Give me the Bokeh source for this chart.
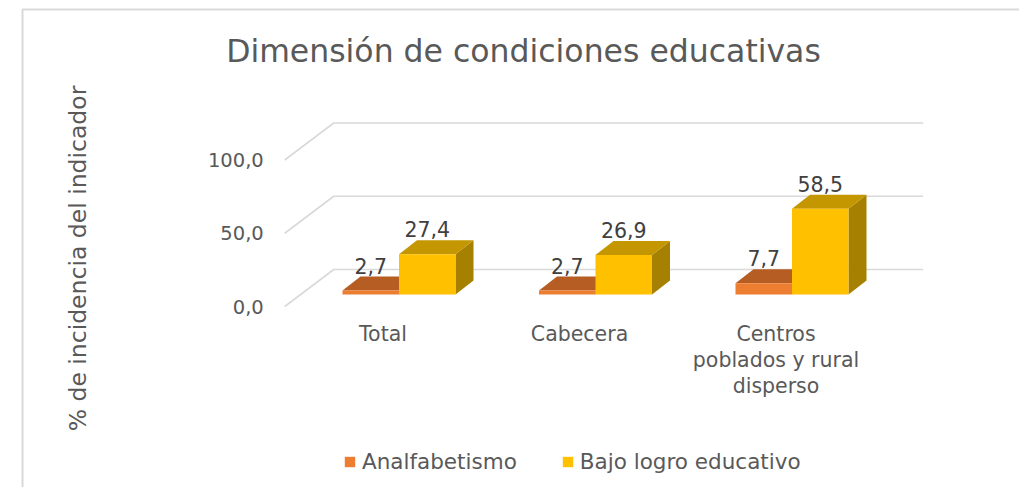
import math
from bokeh.plotting import figure
from bokeh.models import Range1d, ColumnDataSource, Label, Legend, LegendItem
from bokeh.embed import file_html
from bokeh.resources import INLINE
from bokeh.core.properties import value

# ---------------- data ----------------
title_text = "Dimensión de condiciones educativas"
categories = ["Total", "Cabecera", "Centros poblados y rural disperso"]
category_lines = [["Total"], ["Cabecera"], ["Centros", "poblados y rural", "disperso"]]
series_names = ["Analfabetismo", "Bajo logro educativo"]
analfabetismo = [2.7, 2.7, 7.7]
bajo_logro = [27.4, 26.9, 58.5]
y_ticks = [0, 50, 100]
y_tick_labels = ["0,0", "50,0", "100,0"]
y_axis_title = "% de incidencia del indicador"

# ---------------- geometry / style ----------------
W, H = 1019, 487
CAT_PX = 196.5      # pixels per category
VAL_PX = 1.465      # pixels per value unit
GROUP0_PX = 398.5   # canvas x of first group centre
BASE_PX = 294       # canvas y of the zero line in the bar plane

x0 = -GROUP0_PX / CAT_PX
x1 = x0 + W / CAT_PX
y1 = BASE_PX / VAL_PX
y0 = y1 - H / VAL_PX


def px_x(n):
    return n / CAT_PX


def px_y(n):
    return n / VAL_PX


def data_x(cx):
    return x0 + cx / CAT_PX


def data_y(cy):
    return y1 - cy / VAL_PX


BW = px_x(56.5)                 # bar width
DDX, DDY = px_x(18), px_y(14)   # bar depth projection
FRONT_DX, FRONT_DY = px_x(-16), px_y(-12)
BACK_DX, BACK_DY = px_x(33), px_y(25)
AREA_L, AREA_R = -0.5, len(categories) - 0.5

FONT = value("DejaVu Sans")
TEXT_COLOR = "#595959"
LABEL_COLOR = "#404040"
GRID_COLOR = "#D9D9D9"

colors = {
    "Analfabetismo": ("#ED7D31", "#B65D23", "#9A4F1D"),
    "Bajo logro educativo": ("#FFC000", "#C49600", "#A68000"),
}

p = figure(width=W, height=H, x_range=Range1d(x0, x1), y_range=Range1d(y0, y1),
           x_axis_type=None, y_axis_type=None, toolbar_location=None,
           output_backend="svg", min_border=0)
p.outline_line_color = None
p.background_fill_color = "white"
p.border_fill_color = "white"

# outer chart border
xb, yt = data_x(22), data_y(9)
p.line(x=[xb, xb, x1 + 1], y=[y0 - 5, yt, yt], line_color=GRID_COLOR, line_width=2)

# gridlines (front diagonal + back wall)
gx, gy = [], []
for t in y_ticks:
    gx.append([AREA_L + FRONT_DX, AREA_L + BACK_DX, AREA_R + BACK_DX])
    gy.append([t + FRONT_DY, t + BACK_DY, t + BACK_DY])
p.multi_line(xs=gx, ys=gy, line_color=GRID_COLOR, line_width=1.6)

# tick labels
p.text(x=[AREA_L + FRONT_DX - px_x(21)] * len(y_ticks), y=[t + FRONT_DY for t in y_ticks],
       text=y_tick_labels, text_align="right", text_baseline="middle",
       text_font=FONT, text_font_size="19.5px", text_color=TEXT_COLOR)

# bars
front_renderers = []
for s, (name, vals) in enumerate(zip(series_names, [analfabetismo, bajo_logro])):
    front, top, side = colors[name]
    lefts = [i - BW + s * BW for i in range(len(categories))]
    rights = [l + BW for l in lefts]
    side_xs = [[r, r + DDX, r + DDX, r] for r in rights]
    side_ys = [[0, DDY, v + DDY, v] for v in vals]
    p.patches(xs=side_xs, ys=side_ys, fill_color=side, line_color=None)
    top_xs = [[l, r, r + DDX, l + DDX] for l, r in zip(lefts, rights)]
    top_ys = [[v, v, v + DDY, v + DDY] for v in vals]
    p.patches(xs=top_xs, ys=top_ys, fill_color=top, line_color=None)
    src = ColumnDataSource(dict(left=lefts, right=rights, top=vals, bottom=[0] * len(vals)))
    r = p.quad(left="left", right="right", top="top", bottom="bottom", source=src,
               fill_color=front, line_color=None)
    front_renderers.append(r)
    # data labels
    p.text(x=[(l + r_) / 2 for l, r_ in zip(lefts, rights)],
           y=[v + DDY + px_y(11) for v in vals],
           text=[f"{v:.1f}".replace(".", ",") for v in vals],
           text_align="center", text_baseline="middle",
           text_font=FONT, text_font_size="20.5px", text_color=LABEL_COLOR)

# category labels
cx, cy, ct = [], [], []
for i, lines in enumerate(category_lines):
    for k, line in enumerate(lines):
        cx.append(i + FRONT_DX)
        cy.append(FRONT_DY - px_y(27) - k * px_y(26))
        ct.append(line)
p.text(x=cx, y=cy, text=ct, text_align="center", text_baseline="middle",
       text_font=FONT, text_font_size="20.5px", text_color=TEXT_COLOR)

# title
p.add_layout(Label(x=data_x(523), y=data_y(50), text=title_text, text_align="center",
                   text_baseline="middle", text_font="DejaVu Sans", text_font_size="31.5px",
                   text_color=TEXT_COLOR))
# y axis title
p.add_layout(Label(x=data_x(77), y=data_y(258), text=y_axis_title, angle=math.pi / 2,
                   text_align="center", text_baseline="middle", text_font="DejaVu Sans",
                   text_font_size="23.5px", text_color=TEXT_COLOR))

legend = Legend(items=[LegendItem(label=n, renderers=[r]) for n, r in zip(series_names, front_renderers)],
                orientation="horizontal", location=(343, 13))
legend.label_text_font = "DejaVu Sans"
legend.label_text_font_size = "21.5px"
legend.label_text_color = TEXT_COLOR
legend.glyph_width = 13
legend.glyph_height = 13
legend.label_standoff = 6
legend.spacing = 44
legend.padding = 0
legend.margin = 0
legend.border_line_alpha = 0
legend.background_fill_alpha = 0
p.add_layout(legend)

open("out.html", "w").write(file_html(p, INLINE))
